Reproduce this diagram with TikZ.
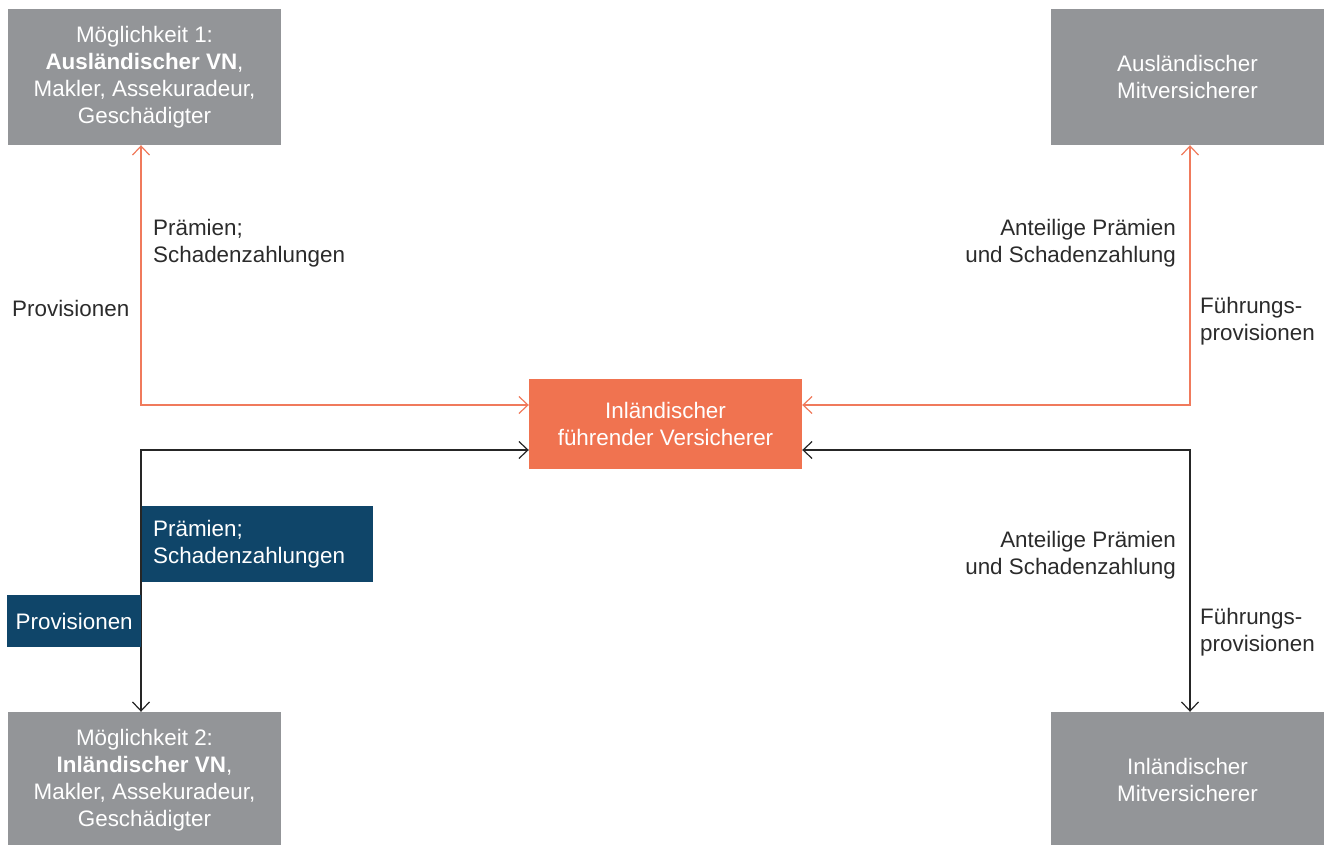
\documentclass[tikz,border=0pt]{standalone}
\usepackage{fontspec}
\setmainfont{Liberation Sans}
\usepackage{tikz}
\usetikzlibrary{arrows.meta,positioning}
\definecolor{boxgray}{HTML}{939598}
\definecolor{leadorange}{HTML}{F07350}
\definecolor{lineorange}{HTML}{F07A5C}
\definecolor{tagblue}{HTML}{0F4569}
\definecolor{textgray}{HTML}{2B2B2B}
\tikzset{%
	party/.style    = {fill=boxgray, text=white, minimum width=273pt, minimum height=136pt, align=center, inner sep=0pt}, % Partner
	leader/.style   = {fill=leadorange, text=white, minimum width=273pt, minimum height=90pt, align=center, inner sep=0pt}, % Fuehrender
	flowtext/.style = {text=textgray, inner sep=0pt}, % Beschriftung
	tag/.style      = {fill=tagblue, text=white, inner ysep=0pt}, % Markierung
	barb/.tip       = {Straight Barb[length=9pt,width=17pt]},
	oflow/.style    = {lineorange, line width=1.2pt, barb-barb},
	kflow/.style    = {black!85, line width=1.2pt, barb-barb},
}

\begin{document}
\begin{tikzpicture}[x=1pt,y=-1pt,every node/.append style={font=\fontsize{22.4}{27}\selectfont}]
	\useasboundingbox (0,0) rectangle (1326,845);
	
	\node[party] (tl) at (144.5,77) {Möglichkeit 1:\\\textbf{Ausländischer VN},\\Makler, Assekuradeur,\\Geschädigter};
	\node[party] (tr) at (1187.5,77) {Ausländischer\\Mitversicherer};
	\node[leader] (ctr) at (665.5,424) {Inländischer\\führender Versicherer};
	\node[party] (bl) at (144.5,780) {Möglichkeit 2:\\\textbf{Inländischer VN},\\Makler, Assekuradeur,\\Geschädigter};
	\node[party] (br) at (1187.5,780) {Inländischer\\Mitversicherer};
	
	\draw[oflow] ([xshift=-3.5pt]tl.south) |- ([yshift=19pt]ctr.west);
	\draw[oflow] ([yshift=19pt]ctr.east) -| ([xshift=2.5pt]tr.south);
	\draw[kflow] ([yshift=-26pt]ctr.west) -| ([xshift=-3.5pt]bl.north);
	\draw[kflow] ([yshift=-26pt]ctr.east) -| ([xshift=2.5pt]br.north);
	
	\node[flowtext, anchor=west, align=left] (tlpay) at (153,243) {Prämien;\\Schadenzahlungen};
	\node[flowtext, anchor=west] (tlcom) at (12,308) {Provisionen};
	\node[flowtext, anchor=east, align=right] (trpay) at (1176,243) {Anteilige Prämien\\und Schadenzahlung};
	\node[flowtext, anchor=west, align=left] (trcom) at (1200,321) {Führungs-\\provisionen};
	
	\node[tag, anchor=north west, inner xsep=11pt, text width=209pt, minimum height=76pt, align=left] (blpay) at (142,506) {Prämien;\\Schadenzahlungen};
	\node[tag, anchor=north west, minimum width=134pt, minimum height=52pt] (blcom) at (7,595) {Provisionen};
	\node[flowtext, anchor=east, align=right] (brpay) at (1176,555) {Anteilige Prämien\\und Schadenzahlung};
	\node[flowtext, anchor=west, align=left] (brcom) at (1200,632) {Führungs-\\provisionen};
\end{tikzpicture}
\end{document}
